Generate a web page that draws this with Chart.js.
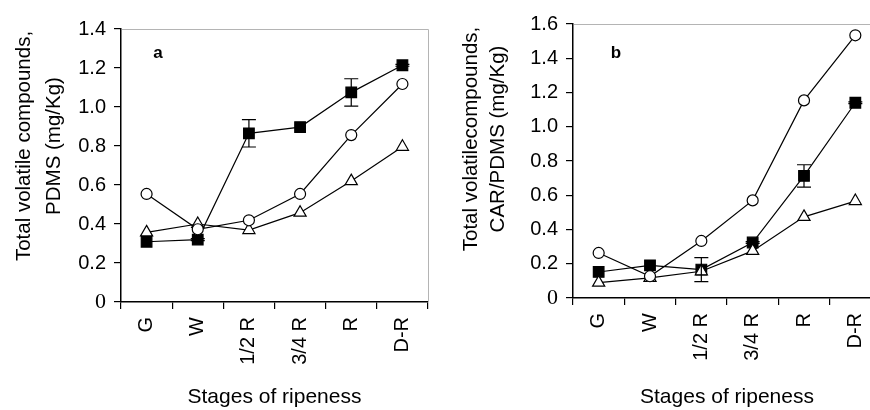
<!DOCTYPE html>
<html>
<head>
<meta charset="utf-8">
<script src="https://cdn.jsdelivr.net/npm/chart.js@4.4.1/dist/chart.umd.min.js"></script>
<style>
  html, body { margin: 0; padding: 0; background: #fff; }
  body { width: 870px; height: 410px; overflow: hidden; position: relative; }
  canvas { position: absolute; top: 0; }
  #chartA { left: 0; }
  #chartB { left: 440px; }
</style>
</head>
<body>
<canvas id="chartA" width="440" height="410"></canvas>
<canvas id="chartB" width="460" height="410"></canvas>
<script>
const stages = ["G", "W", "1/2 R", "3/4 R", "R", "D-R"];

// panel a - PDMS
const circlesA = [0.554, 0.373, 0.419, 0.554, 0.856, 1.118];
const trianglesA = [0.357, 0.40, 0.369, 0.458, 0.62, 0.796];
const squaresA = [0.309, 0.32, 0.865, 0.897, 1.075, 1.214];
const squaresErrA = [0, 0.005, 0.07, 0, 0.07, 0.005];

// panel b - CAR/PDMS
const circlesB = [0.263, 0.127, 0.333, 0.57, 1.154, 1.534];
const trianglesB = [0.09, 0.118, 0.156, 0.275, 0.474, 0.566];
const squaresB = [0.152, 0.191, 0.166, 0.324, 0.713, 1.14];
const squaresErrB = [0, 0, 0.07, 0.005, 0.065, 0.005];

const sans = "'Liberation Sans', Arial, sans-serif";
const serif = "'Liberation Serif', 'Times New Roman', serif";

// error bars drawn through the chart's own y scale
const errorBars = {
    id: "errorBars",
    afterDatasetsDraw(chart, args, opts) {
        const meta = chart.getDatasetMeta(opts.dataset);
        const y = chart.scales.y;
        const ctx = chart.ctx;
        ctx.save();
        ctx.strokeStyle = "#000";
        ctx.lineWidth = 1.2;
        opts.errors.forEach((e, i) => {
            if (!e) return;
            const v = chart.data.datasets[opts.dataset].data[i];
            const x = meta.data[i].x;
            const top = y.getPixelForValue(v + e);
            const bot = y.getPixelForValue(v - e);
            ctx.beginPath();
            ctx.moveTo(x, top); ctx.lineTo(x, bot);
            ctx.moveTo(x - 7, top); ctx.lineTo(x + 7, top);
            ctx.moveTo(x - 7, bot); ctx.lineTo(x + 7, bot);
            ctx.stroke();
        });
        ctx.restore();
    }
};

// gray frame on top/right, y title lines and panel letter
const decorations = {
    id: "decorations",
    afterDraw(chart, args, opts) {
        const ctx = chart.ctx;
        const a = chart.chartArea;
        ctx.save();
        ctx.strokeStyle = "#b4b4b4";
        ctx.lineWidth = 1;
        ctx.beginPath();
        ctx.moveTo(a.left + 1, a.top + 0.5);
        ctx.lineTo(a.right + 0.5, a.top + 0.5);
        ctx.lineTo(a.right + 0.5, a.bottom);
        ctx.stroke();

        ctx.fillStyle = "#000";
        ctx.font = "20.5px " + sans;
        ctx.textAlign = "center";
        ctx.textBaseline = "middle";
        opts.yTitle.forEach((line, i) => {
            ctx.save();
            ctx.translate(opts.titleX[i], opts.titleY);
            ctx.rotate(-Math.PI / 2);
            ctx.fillText(line, 0, 0);
            ctx.restore();
        });

        ctx.font = "bold 17px " + sans;
        ctx.fillText(opts.letter, opts.letterX, opts.letterY);
        ctx.restore();
    }
};

function makeChart(id, circles, triangles, squares, errors, cfg) {
    const ds = (data, style, radius, fill) => ({
        data: data,
        borderColor: "#000",
        borderWidth: 1.2,
        pointStyle: style,
        pointRadius: radius,
        pointBackgroundColor: fill,
        pointBorderColor: "#000",
        pointBorderWidth: 1.2,
        tension: 0,
        clip: false
    });

    return new Chart(document.getElementById(id), {
        type: "line",
        data: {
            labels: stages,
            datasets: [
                ds(circles, "circle", 5.5, "#fff"),
                ds(triangles, "triangle", 7, "#fff"),
                ds(squares, "rect", 7.5, "#000")
            ]
        },
        plugins: [errorBars, decorations],
        options: {
            responsive: false,
            animation: false,
            layout: { padding: { left: 0, right: cfg.padRight, top: cfg.padTop, bottom: 0 } },
            plugins: {
                legend: { display: false },
                tooltip: { enabled: false },
                errorBars: { dataset: 2, errors: errors },
                decorations: cfg.deco
            },
            scales: {
                x: {
                    offset: true,
                    grid: { offset: true, drawOnChartArea: false, drawTicks: true, tickLength: 7, color: "#000", lineWidth: 1.2 },
                    border: { color: "#000", width: 1.5 },
                    ticks: {
                        minRotation: 90, maxRotation: 90, padding: 8, color: "#000",
                        font: { family: sans, size: 20 }
                    },
                    title: {
                        display: true, text: "Stages of ripeness", color: "#000",
                        font: { family: sans, size: 21 }, padding: { top: 0, bottom: 0 }
                    },
                    afterFit(scale) { scale.height = cfg.xHeight; }
                },
                y: {
                    min: 0,
                    max: cfg.yMax,
                    grid: { drawOnChartArea: false, drawTicks: true, tickLength: 7, color: "#000", lineWidth: 1.2 },
                    border: { color: "#000", width: 1.5 },
                    ticks: {
                        stepSize: 0.2, padding: 8, color: "#000",
                        callback: v => v === 0 ? "0" : v.toFixed(1),
                        font: c => c.tick && c.tick.value === 0
                            ? { family: serif, size: 22 }
                            : { family: sans, size: 20 }
                    },
                    afterFit(scale) { scale.width = cfg.yWidth; }
                }
            }
        }
    });
}

makeChart("chartA", circlesA, trianglesA, squaresA, squaresErrA, {
    yMax: 1.4, yWidth: 121, xHeight: 108, padTop: 29, padRight: 12,
    deco: {
        yTitle: ["Total volatile compounds,", "PDMS (mg/Kg)"],
        titleX: [24, 54], titleY: 146,
        letter: "a", letterX: 158, letterY: 53
    }
});

makeChart("chartB", circlesB, trianglesB, squaresB, squaresErrB, {
    yMax: 1.6, yWidth: 133, xHeight: 112, padTop: 24, padRight: 19,
    deco: {
        yTitle: ["Total volatilecompounds,", "CAR/PDMS (mg/Kg)"],
        titleX: [31, 58], titleY: 139,
        letter: "b", letterX: 176, letterY: 53
    }
});
</script>
</body>
</html>
